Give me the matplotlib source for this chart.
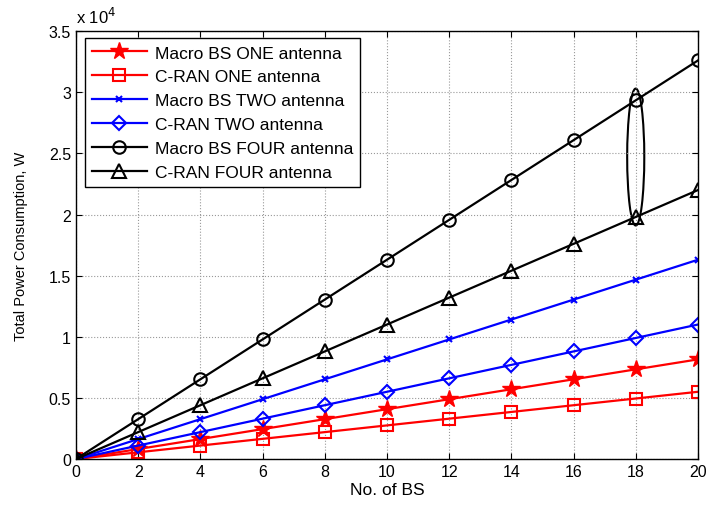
import matplotlib
matplotlib.use("Agg")
import matplotlib.pyplot as plt
from matplotlib.patches import Ellipse
from matplotlib.ticker import FuncFormatter, MultipleLocator

plt.rcParams['font.family'] = ['Liberation Sans', 'DejaVu Sans']

num_bs = [0, 2, 4, 6, 8, 10, 12, 14, 16, 18, 20]
macro_one = [0, 815, 1630, 2445, 3260, 4075, 4890, 5705, 6520, 7335, 8150]
cran_one = [0, 550, 1100, 1650, 2200, 2750, 3300, 3850, 4400, 4950, 5500]
macro_two = [0, 1630, 3260, 4890, 6520, 8150, 9780, 11410, 13040, 14670, 16300]
cran_two = [0, 1100, 2200, 3300, 4400, 5500, 6600, 7700, 8800, 9900, 11000]
macro_four = [0, 3260, 6520, 9780, 13040, 16300, 19560, 22820, 26080, 29340, 32600]
cran_four = [0, 2200, 4400, 6600, 8800, 11000, 13200, 15400, 17600, 19800, 22000]

labels = ["Macro BS ONE antenna", "C-RAN ONE antenna", "Macro BS TWO antenna",
          "C-RAN TWO antenna", "Macro BS FOUR antenna", "C-RAN FOUR antenna"]

fig = plt.figure(figsize=(7.1, 5.1), dpi=100)
ax = fig.add_axes([0.107, 0.098, 0.876, 0.839])

lw = 1.6
ax.plot(num_bs, macro_one, color='red', lw=lw, marker='*', ms=13, mfc='red', mec='red', label=labels[0])
ax.plot(num_bs, cran_one, color='red', lw=lw, marker='s', ms=8, mfc='none', mec='red', mew=1.5, label=labels[1])
ax.plot(num_bs, macro_two, color='blue', lw=lw, marker='x', ms=5, mec='blue', mew=1.5, label=labels[2])
ax.plot(num_bs, cran_two, color='blue', lw=lw, marker='D', ms=7, mfc='none', mec='blue', mew=1.5, label=labels[3])
ax.plot(num_bs, macro_four, color='black', lw=lw, marker='o', ms=9, mfc='none', mec='black', mew=1.5, label=labels[4])
ax.plot(num_bs, cran_four, color='black', lw=lw, marker='^', ms=10, mfc='none', mec='black', mew=1.5, label=labels[5])

ell = Ellipse((18, 24700), width=0.55, height=11200, fill=False, ec='black', lw=1.5)
ax.add_patch(ell)

ax.set_xlim(0, 20)
ax.set_ylim(0, 35000)
ax.xaxis.set_major_locator(MultipleLocator(2))
ax.yaxis.set_major_locator(MultipleLocator(5000))
ax.yaxis.set_major_formatter(FuncFormatter(lambda v, p: f"{v/1e4:g}"))
ax.tick_params(direction='in', top=True, right=True, labelsize=11.5, length=4)
ax.grid(True, color='#999999', linestyle=':', linewidth=0.8)
for s in ax.spines.values():
    s.set_linewidth(1.0)

ax.set_xlabel("No. of BS", fontsize=12.5, labelpad=2)
ax.set_ylabel("Total Power Consumption, W", fontsize=10.5)
ax.yaxis.set_label_coords(-0.077, 0.5)
ax.text(0.0, 1.012, r"x 10$^4$", transform=ax.transAxes, fontsize=12, ha='left', va='bottom')

leg = ax.legend(loc='upper left', bbox_to_anchor=(0.014, 0.983), borderaxespad=0, fontsize=12.5,
                fancybox=False, edgecolor='black', framealpha=1, handlelength=3.2,
                handletextpad=0.45, borderpad=0.4, labelspacing=0.5)
leg.get_frame().set_linewidth(1.0)

fig.savefig("out.png", dpi=100)
